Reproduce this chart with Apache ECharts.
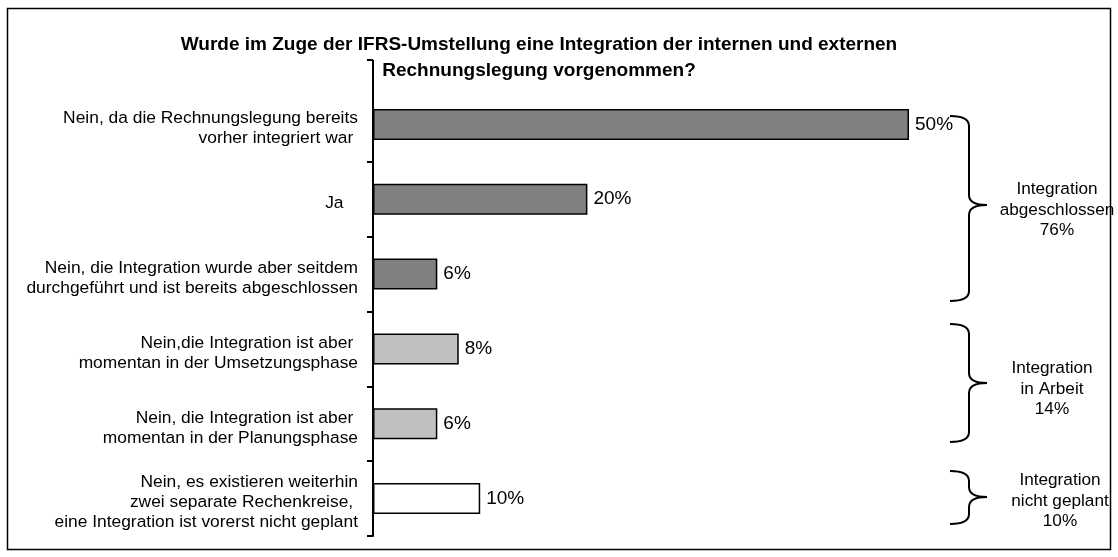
<!DOCTYPE html>
<html><head><meta charset="utf-8">
<script src="https://cdn.jsdelivr.net/npm/echarts@6/dist/echarts.min.js"></script>
<style>html,body{margin:0;padding:0;background:#fff}#c{width:1118px;height:557px}</style>
</head><body><div id="c"></div>
<script>
var categories = [
  "Nein, da die Rechnungslegung bereits\nvorher integriert war ",
  "Ja   ",
  "Nein, die Integration wurde aber seitdem\ndurchgeführt und ist bereits abgeschlossen",
  "Nein,die Integration ist aber \nmomentan in der Umsetzungsphase",
  "Nein, die Integration ist aber \nmomentan in der Planungsphase",
  "Nein, es existieren weiterhin\nzwei separate Rechenkreise, \neine Integration ist vorerst nicht geplant"
];
var values = [50, 20, 6, 8, 6, 10];
var barColors = ["#808080", "#808080", "#808080", "#c0c0c0", "#c0c0c0", "#ffffff"];
var groupLabels = ["Integration\nabgeschlossen\n76%", "Integration\nin Arbeit\n14%", "Integration\nnicht geplant\n10%"];
var titleText = "Wurde im Zuge der IFRS-Umstellung eine Integration der internen und externen\nRechnungslegung vorgenommen?";

var FONT = "Liberation Sans, Arial, sans-serif";
var LS = {stroke: "#000", lineWidth: 2, fill: null};
function brace(yt, ym, yb) {
  var x0 = 950, x1 = 969, x2 = 987, r = 10;
  return [
    {type: "bezierCurve", shape: {x1: x0, y1: yt, cpx1: x1, cpy1: yt, x2: x1, y2: yt + r}, style: LS},
    {type: "line", shape: {x1: x1, y1: yt + r, x2: x1, y2: ym - r}, style: LS},
    {type: "bezierCurve", shape: {x1: x1, y1: ym - r, cpx1: x1, cpy1: ym, x2: x2, y2: ym}, style: LS},
    {type: "bezierCurve", shape: {x1: x2, y1: ym, cpx1: x1, cpy1: ym, x2: x1, y2: ym + r}, style: LS},
    {type: "line", shape: {x1: x1, y1: ym + r, x2: x1, y2: yb - r}, style: LS},
    {type: "bezierCurve", shape: {x1: x1, y1: yb - r, cpx1: x1, cpy1: yb, x2: x0, y2: yb}, style: LS}
  ];
}
var braceSpecs = [[116, 205, 301, 1057, 210], [324, 383, 442, 1052, 389], [471, 497, 524, 1060, 501]];
var graphics = [
  {type: "rect", shape: {x: 7.5, y: 8.5, width: 1103, height: 541}, style: {fill: null, stroke: "#000", lineWidth: 1.5}, silent: true},
  {type: "line", shape: {x1: 373, y1: 60, x2: 373, y2: 88}, style: {stroke: "#000", lineWidth: 2}},
  {type: "line", shape: {x1: 367, y1: 60, x2: 373, y2: 60}, style: {stroke: "#000", lineWidth: 2}}
];
braceSpecs.forEach(function (b, i) {
  graphics = graphics.concat(brace(b[0], b[1], b[2]));
  graphics.push({type: "text", x: b[3], y: b[4], style: {text: groupLabels[i], font: "17.2px " + FONT, fill: "#000", align: "center", verticalAlign: "middle", lineHeight: 20.5}});
});

var chart = echarts.init(document.getElementById("c"));
chart.setOption({
  backgroundColor: "#fff",
  animation: false,
  title: {text: titleText, left: 534, top: 27, textAlign: "center",
    textStyle: {fontFamily: FONT, fontSize: 19, fontWeight: "bold", color: "#000", lineHeight: 26}},
  grid: {left: 373, top: 87, width: 643.2, bottom: 21, containLabel: false},
  xAxis: {type: "value", min: 0, max: 60, show: false},
  yAxis: {type: "category", data: categories, inverse: true,
    axisLine: {lineStyle: {color: "#000", width: 2}},
    axisTick: {show: true, length: 6, inside: false, interval: function (i) { return i !== 0; }, lineStyle: {color: "#000", width: 2}},
    axisLabel: {margin: 15, align: "right",
      formatter: function (v) {
        return "{s| }\n" + v.split("\n").map(function (l) { return "{a|" + l + "}"; }).join("\n");
      },
      rich: {
        s: {fontSize: 1, lineHeight: 8},
        a: {fontFamily: FONT, fontSize: 17.4, color: "#000", lineHeight: 20, align: "right"}
      }
    }
  },
  series: [{
    type: "bar", barWidth: 31,
    data: values.map(function (v, i) { return {value: v, itemStyle: {color: barColors[i]}}; }),
    itemStyle: {borderColor: "#000", borderWidth: 1.5},
    label: {show: true, position: "right", distance: 6, formatter: "{c}%", fontFamily: FONT, fontSize: 19, color: "#000"}
  }],
  graphic: graphics
});
</script></body></html>
